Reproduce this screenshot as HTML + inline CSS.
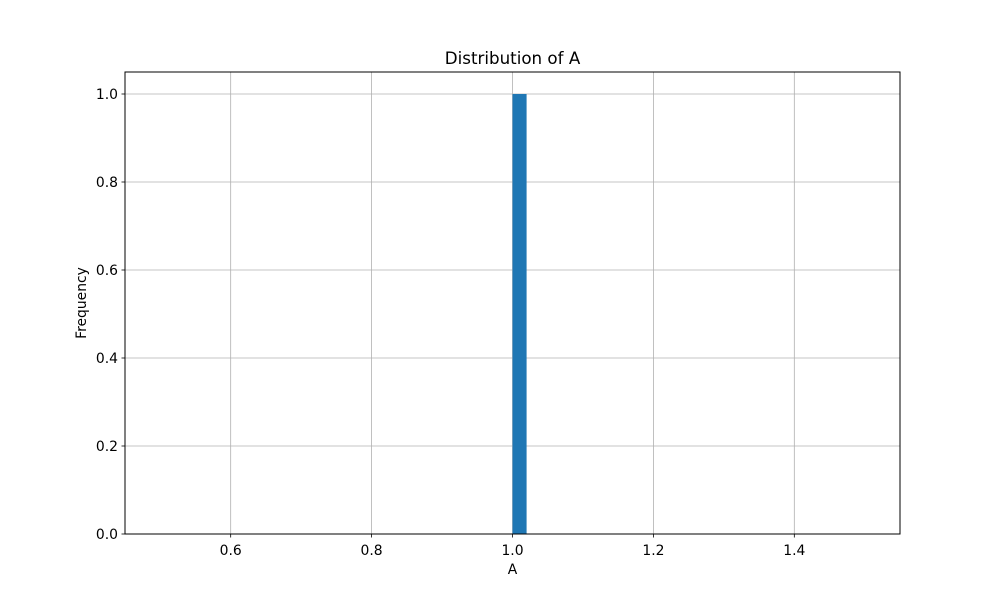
<!DOCTYPE html>
<html><head><meta charset="utf-8"><style>
body{margin:0;background:#fff;}
svg text{font-family:"DejaVu Sans","Liberation Sans",sans-serif;fill:#000;}
</style></head><body>
<svg id="chart" width="1000" height="600" xmlns="http://www.w3.org/2000/svg">
<rect width="1000" height="600" fill="#fff"/>
<g id="grid"></g>
<g id="bars"></g>
<g id="ticks"></g>
<rect x="125" y="72" width="775" height="462" fill="none" stroke="#000" stroke-width="1"/>
<text x="512.5" y="64" font-size="16.7" text-anchor="middle">Distribution of A</text>
<text x="512.5" y="574" font-size="13.9" text-anchor="middle">A</text>
<text x="86" y="303" font-size="13.9" text-anchor="middle" transform="rotate(-90 86 303)">Frequency</text>
</svg>
<script>
const binStarts=[1.0];
const binWidths=[0.02];
const counts=[1];
const xTicks=[0.6,0.8,1.0,1.2,1.4];
const xTickLabels=["0.6","0.8","1.0","1.2","1.4"];
const yTicks=[0,0.2,0.4,0.6,0.8,1.0];
const yTickLabels=["0.0","0.2","0.4","0.6","0.8","1.0"];
const L=125,R=900,T=72,B=534,xmin=0.45,xmax=1.55,ymin=0,ymax=1.05;
const sx=v=>L+(v-xmin)/(xmax-xmin)*(R-L);
const sy=v=>B-(v-ymin)/(ymax-ymin)*(B-T);
const NS="http://www.w3.org/2000/svg";
function mk(tag,attrs,parent){const e=document.createElementNS(NS,tag);for(const k in attrs)e.setAttribute(k,attrs[k]);parent.appendChild(e);return e;}
const grid=document.getElementById('grid'),bars=document.getElementById('bars'),ticks=document.getElementById('ticks');
xTicks.forEach((t,i)=>{const x=sx(t);
 const g=mk('line',{x1:x,x2:x,y1:T,y2:B,stroke:'#b0b0b0','stroke-width':0.8},grid);
 
 
 const tk=mk('line',{x1:x,x2:x,y1:B,y2:B+3.5,stroke:'#000','stroke-width':0.8},ticks);
 
 
 const tx=mk('text',{x:x,y:B+21,'font-size':13.9,'text-anchor':'middle'},ticks);tx.textContent=xTickLabels[i];
 
 
});
yTicks.forEach((t,i)=>{const y=sy(t);
 const g=mk('line',{x1:L,x2:R,y1:y,y2:y,stroke:'#b0b0b0','stroke-width':0.8},grid);
 
 
 const tk=mk('line',{x1:L-3.5,x2:L,y1:y,y2:y,stroke:'#000','stroke-width':0.8},ticks);
 
 
 const tx=mk('text',{x:L-7,y:y+5,'font-size':13.9,'text-anchor':'end'},ticks);tx.textContent=yTickLabels[i];
 
 
});
binStarts.forEach((s,i)=>{const x0=sx(s),x1=sx(s+binWidths[i]),y=sy(counts[i]);
 const r=mk('rect',{x:x0,y:y,width:x1-x0,height:sy(0)-y,fill:'#1f77b4'},bars);
 
 
});
</script>
</body></html>
